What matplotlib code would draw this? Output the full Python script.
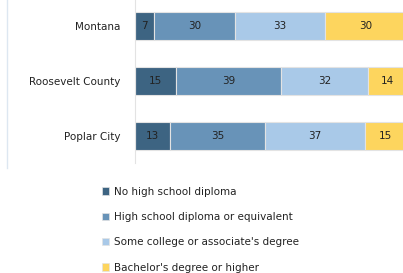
import matplotlib.pyplot as plt
import matplotlib.patches as mpatches
from matplotlib.lines import Line2D
import numpy as np

places = ["Poplar City", "Roosevelt County", "Montana"]
no_hs = [13, 15, 7]
hs_diploma = [35, 39, 30]
some_college = [37, 32, 33]
bachelor = [15, 14, 30]

series_names = ["No high school diploma",
                "High school diploma or equivalent",
                "Some college or associate's degree",
                "Bachelor's degree or higher"]
colors = ["#3d6482", "#6893b8", "#a9c9e8", "#fdd55e"]

plt.rcParams['font.family'] = ['DejaVu Sans']
txt_col = "#222222"
fs = 7.5

fig = plt.figure(figsize=(4.03, 2.73), dpi=100)
ax = fig.add_axes([135 / 403, 1 - 163 / 273, 271 / 403, 163 / 273])

y = np.arange(len(places))
left = np.zeros(len(places))
for vals, col, name in zip([no_hs, hs_diploma, some_college, bachelor], colors, series_names):
    vals = np.array(vals)
    ax.barh(y, vals, left=left, height=0.51, color=col, edgecolor="#e3e3e3",
            linewidth=0.8, label=name)
    for yi, l, v in zip(y, left, vals):
        ax.text(l + v / 2, yi, str(v), ha="center", va="center",
                fontsize=fs, color=txt_col)
    left += vals

ax.set_xlim(0, 100)
ax.set_ylim(-0.49, 2.47)
ax.set_yticks(y)
ax.set_yticklabels(places, fontsize=fs, color=txt_col)
ax.tick_params(axis="y", length=0, pad=10.5)
ax.set_xticks([])
for s in ["top", "right", "bottom"]:
    ax.spines[s].set_visible(False)
ax.spines["left"].set_color("#e3e3e3")
ax.spines["left"].set_linewidth(0.8)

# faint chart border on the left
fig.add_artist(Line2D([7 / 403, 7 / 403], [1 - 168 / 273, 1], color="#dde7f1",
                      linewidth=1.0, transform=fig.transFigure))

handles = [mpatches.Patch(facecolor=c, edgecolor="#e3e3e3", linewidth=0.5) for c in colors]
fig.legend(handles, series_names, loc="upper left", bbox_to_anchor=(98 / 403, 1 - 182.5 / 273),
           frameon=False, fontsize=fs, labelspacing=1.47, handlelength=0.68,
           handleheight=0.68, handletextpad=0.45, borderaxespad=0, labelcolor=txt_col)

fig.savefig("out.png", dpi=100)
